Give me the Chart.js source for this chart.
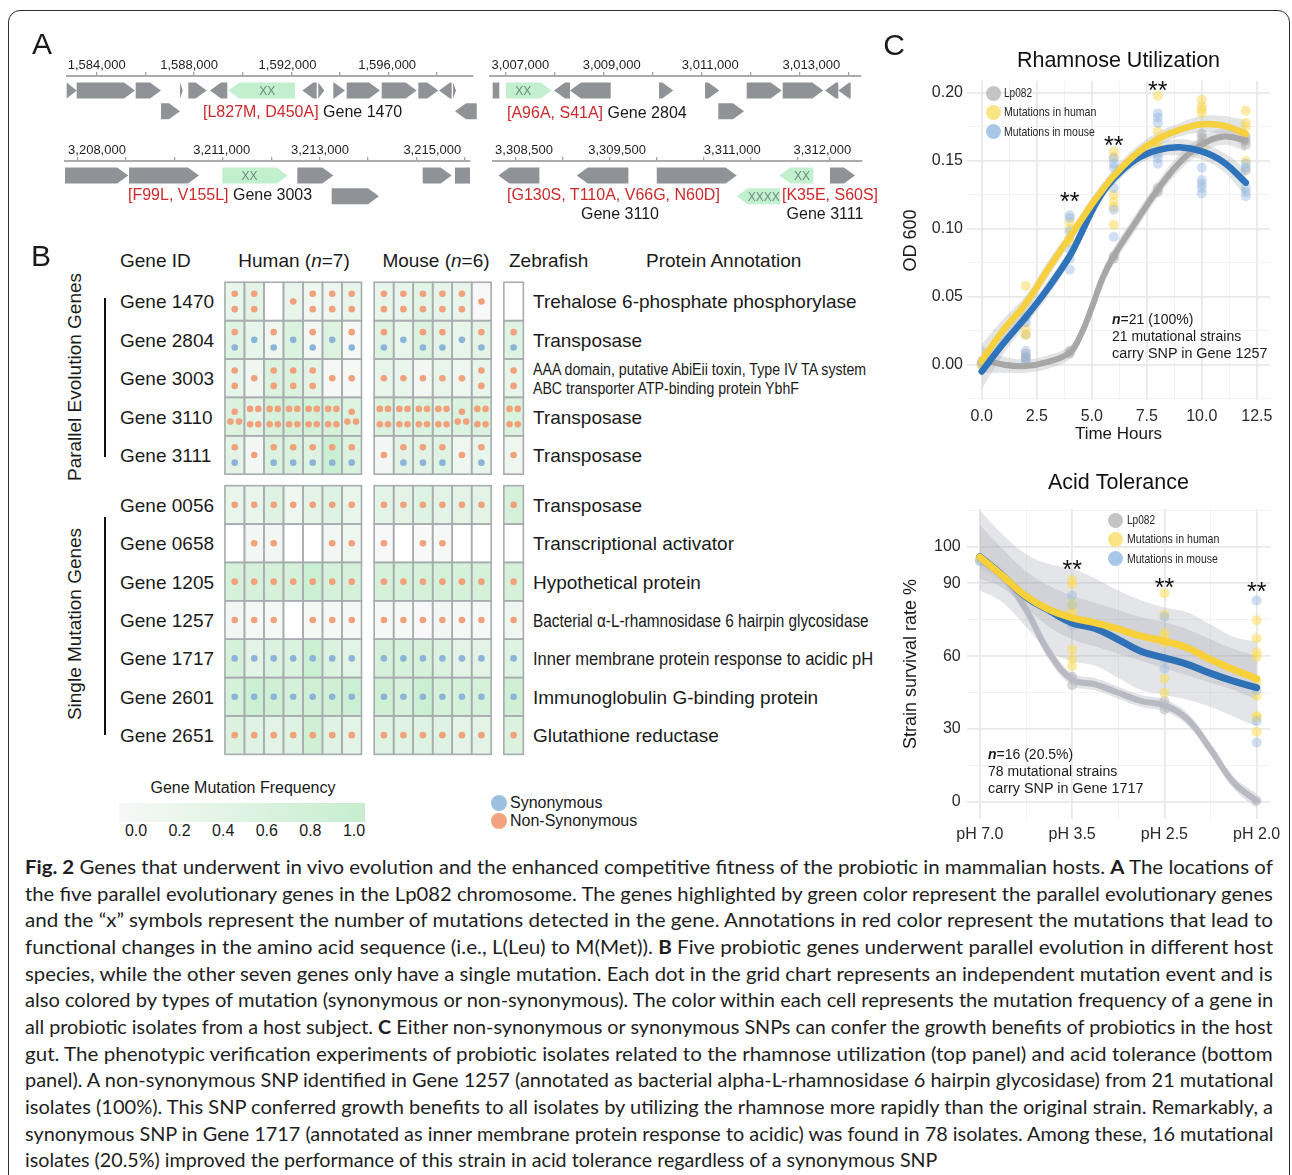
<!DOCTYPE html>
<html>
<head>
<meta charset="utf-8">
<title>Fig. 2</title>
<script src="https://cdn.jsdelivr.net/npm/chart.js@4.4.1/dist/chart.umd.min.js"></script>
<style>
  html, body { margin: 0; padding: 0; background: #fff; }
  body { position: relative; width: 1292px; height: 1175px; overflow: hidden; font-family: "Liberation Sans", Arial, sans-serif; color: #1a1a1a; }
  .frame { position: absolute; left: 8px; top: 10px; width: 1282px; height: 1260px; box-sizing: border-box; border: 1.5px solid #2b2b2b; border-radius: 12px; }
  .t { position: absolute; white-space: nowrap; line-height: 1.15; }
  .cap { font-family: Lato, "Open Sans", sans-serif; color: #1e1e1e; }
  canvas { position: absolute; }
  .blk { position: absolute; }
</style>
</head>
<body>
<div class="frame"></div>
<script>
const FONT = '"Liberation Sans", Arial, sans-serif';
Chart.defaults.font.family = FONT;
Chart.defaults.color = '#2a2a2a';

// ---------------- Panel A: gene neighbourhoods ----------------
// gene = [start, end, strand (1 / -1 / 0 box), row, mutation marks]
const track1Marks = [1584000, 1586000, 1588000, 1590000, 1592000, 1594000, 1596000, 1598000];
const track1LabelAt = [1584000, 1587800, 1591850, 1595950];
const track1Labels = ['1,584,000', '1,588,000', '1,592,000', '1,596,000'];
const track1Genes = [
  [1582766, 1583177, 1, 0, 0], [1583177, 1585576, 1, 0, 0], [1585604, 1586645, 1, 0, 0],
  [1587427, 1587538, 1, 0, 0], [1587768, 1588525, 1, 0, 0], [1588661, 1589373, -1, 0, 0],
  [1589414, 1592158, -1, 0, 2], [1592458, 1593051, -1, 0, 0], [1593116, 1593363, 1, 0, 0],
  [1593734, 1594215, 1, 0, 0], [1594285, 1595655, 1, 0, 0], [1595725, 1597165, 1, 0, 0],
  [1597231, 1598054, 1, 0, 0], [1598082, 1598605, -1, 0, 0], [1598658, 1598782, 1, 0, 0],
  [1586645, 1587427, 1, 1, 0], [1598741, 1599634, -1, 1, 0]
];

const track2Marks = [3007000, 3008000, 3009000, 3010000, 3011000, 3012000, 3013000, 3014000];
const track2LabelAt = [3007293, 3009162, 3011178, 3013244];
const track2Labels = ['3,007,000', '3,009,000', '3,011,000', '3,013,000'];
const track2Genes = [
  [3006728, 3006863, 0, 0, 0], [3007000, 3007935, 1, 0, 2], [3007982, 3008309, -1, 0, 0],
  [3008309, 3009141, -1, 0, 0], [3010129, 3010421, 1, 0, 0], [3011070, 3011362, 1, 0, 0],
  [3011922, 3012638, 1, 0, 0], [3012659, 3013489, 1, 0, 0], [3013524, 3013796, -1, 0, 0],
  [3013796, 3014049, -1, 0, 0], [3011342, 3011867, 1, 1, 0]
];

const track3Marks = [3208000, 3209000, 3210000, 3211000, 3212000, 3213000, 3214000, 3215000, 3216000];
const track3LabelAt = [3208399, 3210975, 3213006, 3215326];
const track3Labels = ['3,208,000', '3,211,000', '3,213,000', '3,215,000'];
const track3Genes = [
  [3207738, 3209045, 1, 0, 0], [3209060, 3210506, 1, 0, 0], [3210987, 3212339, 1, 0, 2],
  [3212537, 3213281, 1, 0, 0], [3215128, 3215727, 1, 0, 0], [3215795, 3216105, 0, 0, 0],
  [3213248, 3214225, 1, 1, 0]
];

const track4Marks = [3308500, 3309000, 3309500, 3310000, 3310500, 3311000, 3311500, 3311840];
const track4LabelAt = [3308585, 3309575, 3310801, 3311759];
const track4Labels = ['3,308,500', '3,309,500', '3,311,000', '3,312,000'];
const track4Genes = [
  [3308312, 3308748, -1, 0, 0], [3309146, 3309695, -1, 0, 0], [3309997, 3310848, 1, 0, 0],
  [3311302, 3311664, -1, 0, 2], [3311841, 3312107, 1, 0, 0], [3310848, 3311309, -1, 1, 4]
];

// ---------------- Panel B: mutation grid ----------------
const geneIds = ['Gene 1470', 'Gene 2804', 'Gene 3003', 'Gene 3110', 'Gene 3111',
  'Gene 0056', 'Gene 0658', 'Gene 1205', 'Gene 1257', 'Gene 1717', 'Gene 2601', 'Gene 2651'];
const geneAnnotations = ['Trehalose 6-phosphate phosphorylase', 'Transposase', '', 'Transposase', 'Transposase',
  'Transposase', 'Transcriptional activator', 'Hypothetical protein', '', '',
  'Immunoglobulin G-binding protein', 'Glutathione reductase'];
// n = non-synonymous, s = synonymous, one letter per mutation event
const humanMut = [
  ['nn', 'nn', '', 'n', 'nn', 'nn', 'nn'],
  ['ns', 's', 'ns', 's', 'ns', 's', 'ns'],
  ['nn', 'n', 'nn', 'nn', 'nn', 'n', 'n'],
  ['nnn', 'nnnn', 'nnnn', 'nnnn', 'nnnn', 'nnnn', 'nnn'],
  ['ns', 'n', 'ns', 'ns', 'ns', 'ns', 'ns'],
  ['n', 'n', 'n', 'n', 'n', 'n', 'n'],
  ['', 'n', 'n', '', '', 'n', 'n'],
  ['n', 'n', 'n', 'n', 'n', 'n', 'n'],
  ['n', 'n', 'n', '', 'n', 'n', 'n'],
  ['s', 's', 's', 's', 's', 's', 's'],
  ['s', 's', 's', 's', 's', 's', 's'],
  ['n', 'n', 'n', 'n', 'n', 'n', 'n']
];
const mouseMut = [
  ['nn', 'nn', 'nn', 'nn', 'nn', 'n'],
  ['ns', 's', 'ns', 'ns', 's', 'ns'],
  ['n', 'n', 'n', 'n', 'n', 'nn'],
  ['nnnn', 'nnnn', 'nnnn', 'nnnn', 'nnn', 'nnnn'],
  ['n', 'ns', 'ns', 'ns', 'n', 'ns'],
  ['n', 'n', 'n', 'n', 'n', 'n'],
  ['n', '', 'n', 'n', '', ''],
  ['n', 'n', 'n', 'n', 'n', 'n'],
  ['n', 'n', 'n', 'n', 'n', 'n'],
  ['s', 's', 's', 's', 's', 's'],
  ['s', 's', 's', 's', 's', 's'],
  ['n', 'n', 'n', 'n', 'n', 'n']
];
const zebraMut = ['', 'ns', 'nn', 'nnnn', 'n', 'n', '', 'n', 'n', 's', 's', 'n'];
const humanFreq = [
  [0.30, 0.40, 0.00, 0.30, 0.15, 0.20, 0.30],
  [0.50, 0.35, 0.15, 0.60, 0.10, 0.55, 0.03],
  [0.35, 0.15, 0.60, 0.60, 0.40, 0.05, 0.02],
  [0.60, 0.40, 0.70, 0.75, 0.75, 0.70, 0.55],
  [0.40, 0.10, 0.60, 0.60, 0.50, 0.90, 0.60],
  [0.30, 0.30, 0.50, 0.20, 0.40, 0.50, 0.30],
  [0.00, 0.10, 0.10, 0.00, 0.00, 0.10, 0.20],
  [0.70, 0.70, 0.70, 0.70, 0.90, 0.70, 0.70],
  [0.10, 0.05, 0.02, 0.00, 0.05, 0.05, 0.05],
  [0.70, 0.40, 0.60, 0.60, 0.90, 0.60, 0.40],
  [0.70, 0.90, 0.80, 0.70, 0.80, 0.80, 0.90],
  [0.60, 0.50, 0.40, 0.50, 0.80, 0.50, 0.40]
];
const mouseFreq = [
  [0.30, 0.30, 0.45, 0.35, 0.30, 0.00],
  [0.50, 0.30, 0.60, 0.40, 0.30, 0.40],
  [0.30, 0.30, 0.10, 0.30, 0.20, 0.30],
  [0.60, 0.50, 0.60, 0.50, 0.60, 0.60],
  [0.10, 0.40, 0.40, 0.50, 0.20, 0.30],
  [0.40, 0.40, 0.50, 0.40, 0.40, 0.40],
  [0.00, 0.00, 0.00, 0.05, 0.00, 0.00],
  [0.70, 0.70, 0.70, 0.70, 0.70, 0.70],
  [0.05, 0.05, 0.00, 0.10, 0.05, 0.05],
  [0.70, 0.70, 0.70, 0.60, 0.40, 0.40],
  [0.80, 0.70, 0.90, 0.70, 0.70, 0.70],
  [0.50, 0.50, 0.50, 0.50, 0.40, 0.40]
];
const zebraFreq = [0.00, 0.50, 0.30, 0.60, 0.20, 0.70, 0.00, 0.70, 0.20, 0.50, 0.80, 0.60];
const freqLegendTicks = [0, 0.2, 0.4, 0.6, 0.8, 1.0];

// ---------------- Panel C: rhamnose utilization ----------------
const rhamFitHours = [0, 1, 2, 3, 4, 4.5, 5, 5.5, 6, 7, 8, 9, 10, 11, 12];
const rhamFitLp082 = [0.004, 0.000, -0.001, 0.002, 0.009, 0.022, 0.042, 0.064, 0.080, 0.105, 0.129, 0.149, 0.162, 0.168, 0.165];
const rhamFitHuman = [0.003, 0.026, 0.045, 0.070, 0.094, 0.106, 0.118, 0.129, 0.139, 0.155, 0.166, 0.173, 0.177, 0.176, 0.170];
const rhamFitMouse = [-0.005, 0.016, 0.035, 0.056, 0.080, 0.096, 0.113, 0.127, 0.137, 0.151, 0.158, 0.160, 0.157, 0.149, 0.134];
const rhamSeLp082 = [0.010, 0.006, 0.005, 0.005, 0.005, 0.005, 0.006, 0.006, 0.006, 0.006, 0.006, 0.006, 0.006, 0.006, 0.008];
const rhamSeHuman = [0.012, 0.008, 0.006, 0.006, 0.005, 0.005, 0.005, 0.005, 0.005, 0.005, 0.005, 0.005, 0.006, 0.007, 0.010];
const rhamSeMouse = [0.013, 0.008, 0.006, 0.006, 0.005, 0.005, 0.005, 0.005, 0.005, 0.005, 0.005, 0.006, 0.006, 0.007, 0.010];
const rhamPtsLp082 = [[0, 0.000], [0, 0.001], [2, 0.022], [2, 0.008], [2, 0.006], [2, 0.004], [4, 0.010], [4, 0.008],
  [6, 0.080], [6, 0.078], [8, 0.130], [8, 0.127], [10, 0.170], [10, 0.167], [10, 0.163],
  [12, 0.168], [12, 0.165], [12, 0.162], [12, 0.143]];
const rhamPtsHuman = [[0, 0.000], [0, 0.001], [2, 0.058], [2, 0.027], [2, 0.022], [4, 0.105], [4, 0.100], [4, 0.093], [4, 0.090],
  [6, 0.157], [6, 0.153], [6, 0.125], [6, 0.120], [6, 0.116], [6, 0.103], [8, 0.198], [8, 0.172], [8, 0.165], [8, 0.160], [8, 0.158],
  [10, 0.195], [10, 0.190], [10, 0.188], [10, 0.185], [10, 0.160], [12, 0.187], [12, 0.178], [12, 0.175], [12, 0.150]];
const rhamPtsMouse = [[0, 0.002], [2, 0.035], [2, 0.031], [2, 0.010], [2, 0.005], [2, 0.002],
  [4, 0.110], [4, 0.108], [4, 0.098], [4, 0.085], [4, 0.078], [4, 0.070],
  [6, 0.152], [6, 0.148], [6, 0.145], [6, 0.130], [6, 0.114], [6, 0.094],
  [8, 0.185], [8, 0.182], [8, 0.178], [8, 0.155], [8, 0.152], [8, 0.148],
  [10, 0.145], [10, 0.136], [10, 0.133], [10, 0.130], [10, 0.126],
  [12, 0.148], [12, 0.145], [12, 0.130], [12, 0.127], [12, 0.124]];
const rhamStarX = [4, 6, 8];
const rhamStarY = [0.125, 0.166, 0.207];
const rhamXTicks = [0, 1.25, 2.5, 3.75, 5, 6.25, 7.5, 8.75, 10, 11.25, 12.5];
const rhamYTicks = [-0.025, 0, 0.025, 0.05, 0.075, 0.1, 0.125, 0.15, 0.175, 0.2];

// ---------------- Panel C: acid tolerance ----------------
const acidLabels = ['pH 7.0', 'pH 3.5', 'pH 2.5', 'pH 2.0'];
const acidFitPos = [0, 0.25, 0.5, 0.75, 1, 1.25, 1.5, 1.75, 2, 2.25, 2.5, 2.75, 3];
const acidFitLp082 = [99.5, 92.9, 79.2, 61.4, 50.4, 48.4, 44.9, 41.5, 39.7, 34.0, 21.6, 7.9, 0.4];
const acidFitHuman = [100.8, 92.9, 84.7, 79.2, 75.8, 73.7, 71.2, 68.2, 66.2, 63.4, 58.6, 54.5, 50.7];
const acidFitMouse = [101.0, 93.0, 84.4, 78.8, 73.7, 71.4, 66.8, 61.9, 59.3, 56.6, 52.9, 49.7, 47.0];
const acidBandHumanHi = [120, 110, 102, 98, 96, 92, 87, 83, 80, 78, 73, 68, 66];
const acidBandHumanLo = [92, 88, 80, 72, 67, 64, 61, 58, 55, 52, 49, 46, 42];
const acidBandMouseHi = [114, 104, 95, 89, 85, 82, 79, 76, 74, 71, 67, 63, 60];
const acidBandMouseLo = [87, 82, 72, 62, 58, 56, 51, 46, 44, 42, 39, 35, 31];
const acidSeLp082 = [3, 3, 3, 3, 2.5, 2.5, 2.5, 2.5, 2.5, 2.5, 2.5, 2.5, 3];
const acidPtsLp082 = [[0, 99.5], [1, 51.5], [1, 48.0], [2, 41.5], [2, 38.0], [3, 0.4]];
const acidPtsHuman = [[0, 100], [1, 91.5], [1, 89.5], [1, 82.0], [1, 79.5], [1, 78.5], [1, 62.7], [1, 58.9], [1, 55.9],
  [2, 85.9], [2, 77.1], [2, 69.6], [2, 68.0], [2, 65.5], [2, 50.7], [2, 44.9],
  [3, 74.8], [3, 67.3], [3, 61.6], [3, 59.7], [3, 49.3], [3, 43.6], [3, 35.3], [3, 34.7], [3, 28.8]];
const acidPtsMouse = [[0, 99], [1, 85.0], [1, 81.0], [1, 72.6], [2, 76.2], [2, 58.9], [2, 54.8],
  [3, 82.9], [3, 46.0], [3, 33.3], [3, 24.4]];
const acidStarX = [1, 2, 3];
const acidStarY = [98.4, 91.0, 89.2];
const acidXTicks = [0, 0.5, 1, 1.5, 2, 2.5, 3];
const acidYTicks = [0, 15, 30, 45, 60, 75, 90, 105, 120];
const acidYLabelAt = [0, 30, 60, 90, 105];
const acidYLabels = ['0', '30', '60', '90', '100'];

// ---------------- helpers ----------------
function put(html, x, y, o = {}) {
  const d = document.createElement('div');
  d.className = 't' + (o.cls ? ' ' + o.cls : '');
  d.innerHTML = html;
  d.style.fontSize = (o.size || 16) + 'px';
  if (o.color) d.style.color = o.color;
  d.style.left = x + 'px';
  d.style.top = y + 'px';
  document.body.appendChild(d);
  const sx = o.width ? o.width / d.offsetWidth : 1;
  const ax = o.align === 'center' ? -50 : o.align === 'right' ? -100 : 0;
  d.style.transformOrigin = (o.align === 'center' ? '50%' : o.align === 'right' ? '100%' : '0') + ' 50%';
  d.style.transform = `translate(${ax}%, -50%)` + (o.rotate ? ` rotate(${o.rotate}deg)` : '') + ` scaleX(${sx})`;
  return d;
}

function block(x, y, w, h, css) {
  const d = document.createElement('div');
  d.className = 'blk';
  Object.assign(d.style, { left: x + 'px', top: y + 'px', width: w + 'px', height: h + 'px' }, css);
  document.body.appendChild(d);
}

function canvasAt(left, top, w, h) {
  const c = document.createElement('canvas');
  c.width = w; c.height = h;
  c.style.left = left + 'px'; c.style.top = top + 'px';
  c.style.width = w + 'px'; c.style.height = h + 'px';
  document.body.appendChild(c);
  return c;
}

// ---------------- Panel A charts ----------------
const geneArrows = {
  id: 'geneArrows',
  afterDatasetsDraw(chart) {
    const ctx = chart.ctx;
    const genes = chart.data.datasets[0].genes;
    chart.getDatasetMeta(0).data.forEach((el, i) => {
      const g = genes[i];
      const x0 = Math.min(el.x, el.base), x1 = Math.max(el.x, el.base);
      const yc = el.y, h = el.height / 2;
      const head = Math.min(11, x1 - x0);
      ctx.beginPath();
      if (g[2] === 1) {
        ctx.moveTo(x0, yc - h); ctx.lineTo(x1 - head, yc - h); ctx.lineTo(x1, yc);
        ctx.lineTo(x1 - head, yc + h); ctx.lineTo(x0, yc + h);
      } else if (g[2] === -1) {
        ctx.moveTo(x1, yc - h); ctx.lineTo(x0 + head, yc - h); ctx.lineTo(x0, yc);
        ctx.lineTo(x0 + head, yc + h); ctx.lineTo(x1, yc + h);
      } else {
        ctx.rect(x0, yc - h, x1 - x0, 2 * h);
      }
      ctx.closePath();
      ctx.fillStyle = g[4] ? '#c2efcd' : '#8f9297';
      ctx.fill();
      if (g[4]) {
        const cx = g[2] === 1 ? (x0 + x1 - head) / 2 : (x0 + head + x1) / 2;
        ctx.save();
        ctx.font = '12px "Liberation Sans Narrow", ' + FONT;
        ctx.fillStyle = '#6d8c7d';
        ctx.textAlign = 'center';
        ctx.textBaseline = 'middle';
        ctx.fillText('X'.repeat(g[4]), cx, yc + 1);
        ctx.restore();
      }
    });
  }
};

const tracks = [
  { left: 40, top: 48, width: 450, padL: 26.7, padR: 17, min: 1582766, max: 1599481, marks: track1Marks, labelAt: track1LabelAt, labels: track1Labels, genes: track1Genes },
  { left: 480, top: 48, width: 400, padL: 10, padR: 19, min: 3006673, max: 3014260, marks: track2Marks, labelAt: track2LabelAt, labels: track2Labels, genes: track2Genes },
  { left: 40, top: 133, width: 450, padL: 25, padR: 20, min: 3207738, max: 3216105, marks: track3Marks, labelAt: track3LabelAt, labels: track3Labels, genes: track3Genes },
  { left: 480, top: 133, width: 400, padL: 13.3, padR: 18.3, min: 3308258, max: 3312178, marks: track4Marks, labelAt: track4LabelAt, labels: track4Labels, genes: track4Genes }
];

tracks.forEach(t => {
  const cv = canvasAt(t.left, t.top, t.width, 80);
  new Chart(cv, {
    type: 'bar',
    data: {
      datasets: [{
        data: t.genes.map(g => ({ x: [g[0], g[1]], y: g[3] })),
        genes: t.genes,
        backgroundColor: 'rgba(0,0,0,0)',
        barThickness: 16
      }]
    },
    options: {
      indexAxis: 'y', responsive: false, animation: false,
      layout: { padding: { left: t.padL, right: t.padR, top: 0, bottom: 0 } },
      plugins: { legend: { display: false }, tooltip: { enabled: false } },
      scales: {
        x: {
          type: 'linear', position: 'top', min: t.min, max: t.max, beginAtZero: false,
          afterBuildTicks: s => {
            s.ticks = t.marks.map(v => ({ value: v, mark: true }))
              .concat(t.labelAt.map((v, i) => ({ value: v, txt: t.labels[i] })));
          },
          afterFit: s => { s.height = 28; },
          ticks: { autoSkip: false, maxRotation: 0, padding: -1, font: { size: 13 }, color: '#1e1e1e',
            callback: (v, i, ticks) => ticks[i].txt || '' },
          grid: { drawOnChartArea: false, tickLength: 4, lineWidth: 1.3,
            color: c => (c.tick && c.tick.mark) ? '#a3a3a3' : 'rgba(0,0,0,0)' },
          border: { color: '#ababab', width: 2 }
        },
        y: { type: 'linear', min: -0.7, max: 1.8, reverse: true, offset: false, display: false }
      }
    },
    plugins: [geneArrows]
  });
});

const RED = '#cc2a2a';
put(`<span style="color:${RED}">[L827M, D450A]</span> Gene 1470`, 203, 112, { size: 16 });
put(`<span style="color:${RED}">[A96A, S41A]</span> Gene 2804`, 507, 113, { size: 16 });
put(`<span style="color:${RED}">[F99L, V155L]</span> Gene 3003`, 128, 195, { size: 16 });
put(`<span style="color:${RED}">[G130S, T110A, V66G, N60D]</span>`, 507, 195, { size: 16 });
put('Gene 3110', 620, 214, { size: 16, align: 'center' });
put(`<span style="color:${RED}">[K35E, S60S]</span>`, 782, 195, { size: 16 });
put('Gene 3111', 825, 214, { size: 16, align: 'center' });

// ---------------- Panel B chart ----------------
const hostBlocks = [
  { start: 0, mut: humanMut, freq: humanFreq },
  { start: 7.65, mut: mouseMut, freq: mouseFreq },
  { start: 14.3, mut: zebraMut.map(m => [m]), freq: zebraFreq.map(f => [f]) }
];
const rowStart = r => (r < 5 ? r : r + 0.3);
const dotOffsets = {
  1: [[0, 0]],
  2: [[0, -0.2], [0, 0.2]],
  3: [[0, -0.125], [-0.22, 0.13], [0.22, 0.13]],
  4: [[-0.21, -0.2], [0.21, -0.2], [-0.21, 0.2], [0.21, 0.2]]
};
const nonSynDots = [], synDots = [];
hostBlocks.forEach(b => b.mut.forEach((row, r) => row.forEach((s, j) => {
  if (!s) return;
  dotOffsets[s.length].forEach((o, k) => {
    const p = { x: b.start + j + 0.5 + o[0], y: rowStart(r) + 0.5 + o[1] };
    (s[k] === 'n' ? nonSynDots : synDots).push(p);
  });
})));

function cellColor(f, empty) {
  if (empty) return '#ffffff';
  const a = [247, 248, 247], z = [198, 238, 206];
  return `rgb(${a.map((v, i) => Math.round(v + (z[i] - v) * f)).join(',')})`;
}

const cellsPlugin = {
  id: 'cells',
  beforeDatasetsDraw(chart) {
    const { ctx, scales: { x, y } } = chart;
    const rects = [];
    hostBlocks.forEach(b => b.freq.forEach((row, r) => row.forEach((f, j) => {
      const x0 = x.getPixelForValue(b.start + j), x1 = x.getPixelForValue(b.start + j + 1);
      const y0 = y.getPixelForValue(rowStart(r)), y1 = y.getPixelForValue(rowStart(r) + 1);
      rects.push([x0, y0, x1 - x0, y1 - y0]);
      ctx.fillStyle = cellColor(f, !b.mut[r][j]);
      ctx.fillRect(x0, y0, x1 - x0, y1 - y0);
    })));
    ctx.save();
    ctx.strokeStyle = '#a8acb0';
    ctx.lineWidth = 1.6;
    rects.forEach(rc => ctx.strokeRect(rc[0], rc[1], rc[2], rc[3]));
    ctx.restore();
  }
};

const gridLeft = 219, gridTop = 276;
const gridCanvas = canvasAt(gridLeft, gridTop, 311, 485);
const gridChart = new Chart(gridCanvas, {
  type: 'scatter',
  data: {
    datasets: [
      { label: 'Synonymous', data: synDots, pointRadius: 3.3, pointBackgroundColor: 'rgb(140,180,216)', pointBorderWidth: 0 },
      { label: 'Non-Synonymous', data: nonSynDots, pointRadius: 3.3, pointBackgroundColor: 'rgb(241,161,124)', pointBorderWidth: 0 }
    ]
  },
  options: {
    responsive: false, animation: false,
    layout: { padding: 0 },
    plugins: { legend: { display: false }, tooltip: { enabled: false } },
    scales: {
      x: { type: 'linear', min: -0.1, max: 15.435, display: false },
      y: { type: 'linear', min: -0.059, max: 12.369, reverse: true, display: false }
    }
  },
  plugins: [cellsPlugin]
});

put('Gene ID', 120, 261, { size: 19 });
put('Human (<i>n</i>=7)', 294, 261, { size: 19, align: 'center' });
put('Mouse (<i>n</i>=6)', 436, 261, { size: 19, align: 'center' });
put('Zebrafish', 509, 261, { size: 19 });
put('Protein Annotation', 646, 261, { size: 19 });

geneIds.forEach((g, r) => {
  const yc = gridTop + gridChart.scales.y.getPixelForValue(rowStart(r) + 0.5) + 1;
  put(g, 120, yc, { size: 19 });
  if (geneAnnotations[r]) put(geneAnnotations[r], 533, yc, { size: 19 });
  if (r === 2) {
    put('AAA domain, putative AbiEii toxin, Type IV TA system', 533, yc - 9, { size: 16, width: 333 });
    put('ABC transporter ATP-binding protein YbhF', 533, yc + 10, { size: 16, width: 266 });
  }
  if (r === 8) put('Bacterial α-L-rhamnosidase 6 hairpin glycosidase', 533, yc, { size: 18, width: 336 });
  if (r === 9) put('Inner membrane protein response to acidic pH', 533, yc, { size: 18, width: 340 });
});

put('Parallel Evolution Genes', 75, 377, { size: 19, align: 'center', rotate: -90 });
put('Single Mutation Genes', 75, 624, { size: 19, align: 'center', rotate: -90 });
block(104, 298, 2, 159, { background: '#111' });
block(104, 517, 2, 218, { background: '#111' });

// frequency legend
put('Gene Mutation Frequency', 243, 788, { size: 16, align: 'center' });
block(119, 803, 246, 19, { background: 'linear-gradient(to right, rgb(247,248,247), rgb(198,238,206))' });
freqLegendTicks.forEach(v => put(v.toFixed(1), 136 + v * 218, 831, { size: 16, align: 'center' }));
block(491, 795, 16, 16, { background: 'rgb(157,191,224)', borderRadius: '50%' });
block(491, 813, 16, 16, { background: 'rgb(243,162,127)', borderRadius: '50%' });
put('Synonymous', 510, 803, { size: 16 });
put('Non-Synonymous', 510, 821, { size: 16 });

// ---------------- Panel C charts ----------------
const starPlugin = {
  id: 'stars',
  afterDatasetsDraw(chart, args, opts) {
    const { ctx, scales: { x, y } } = chart;
    ctx.save();
    ctx.font = '25px ' + FONT;
    ctx.fillStyle = '#111';
    ctx.textAlign = 'center';
    ctx.textBaseline = 'alphabetic';
    opts.xs.forEach((v, i) => ctx.fillText('**', x.getPixelForValue(v), y.getPixelForValue(opts.ys[i]) + 15));
    ctx.restore();
  }
};

const fitLine = (xs, ys, color, width, order) => ({
  data: xs.map((x, i) => ({ x, y: ys[i] })), borderColor: color, borderWidth: width,
  pointRadius: 0, tension: 0.4, fill: false, order, borderCapStyle: 'round'
});
const bandPair = (xs, lo, hi, color, order) => [
  { data: xs.map((x, i) => ({ x, y: hi[i] })), borderWidth: 0, pointRadius: 0, tension: 0.4, fill: '+1', backgroundColor: color, order },
  { data: xs.map((x, i) => ({ x, y: lo[i] })), borderWidth: 0, pointRadius: 0, tension: 0.4, fill: false, order }
];
const pointSet = (pts, color, order) => ({
  data: pts.map(p => ({ x: p[0], y: p[1] })), showLine: false, pointRadius: 5,
  pointBackgroundColor: color, pointBorderWidth: 0, order
});
const near = (v, list) => list.findIndex(t => Math.abs(t - v) < 1e-6);

// rhamnose utilization
const rhamMajor = v => Math.abs(v / 2.5 - Math.round(v / 2.5)) < 1e-6;
const rhamYMajor = v => Math.abs(v / 0.05 - Math.round(v / 0.05)) < 1e-6;
const rhamBand = (fit, se) => [fit.map((v, i) => v - se[i]), fit.map((v, i) => v + se[i])];
const rhamCanvas = canvasAt(895, 40, 392, 415);
new Chart(rhamCanvas, {
  type: 'line',
  data: {
    datasets: [
      ...bandPair(rhamFitHours, ...rhamBand(rhamFitLp082, rhamSeLp082), 'rgba(175,178,182,0.35)', 10),
      ...bandPair(rhamFitHours, ...rhamBand(rhamFitHuman, rhamSeHuman), 'rgba(175,178,182,0.35)', 10),
      ...bandPair(rhamFitHours, ...rhamBand(rhamFitMouse, rhamSeMouse), 'rgba(175,178,182,0.35)', 10),
      pointSet(rhamPtsLp082, 'rgba(165,165,165,0.45)', 6),
      pointSet(rhamPtsHuman, 'rgba(250,216,80,0.5)', 5),
      pointSet(rhamPtsMouse, 'rgba(150,185,225,0.45)', 4),
      fitLine(rhamFitHours, rhamFitLp082, '#a7a7a7', 6, 3),
      fitLine(rhamFitHours, rhamFitMouse, '#2f74bb', 6.5, 2),
      fitLine(rhamFitHours, rhamFitHuman, '#f6d03e', 6.5, 1)
    ]
  },
  options: {
    responsive: false, animation: false,
    layout: { padding: { left: 0, right: 17, top: 0, bottom: 0 } },
    plugins: {
      legend: { display: false }, tooltip: { enabled: false },
      title: { display: true, fullSize: false, text: 'Rhamnose Utilization', font: { size: 21.5, weight: 'normal' }, color: '#111', padding: { top: 8, bottom: 7 } },
      stars: { xs: rhamStarX, ys: rhamStarY }
    },
    scales: {
      x: {
        type: 'linear', min: -0.67, max: 13.1,
        afterBuildTicks: s => { s.ticks = rhamXTicks.map(v => ({ value: v })); },
        afterFit: s => { s.height = 55; },
        ticks: { autoSkip: false, maxRotation: 0, padding: 7, font: { size: 16 }, color: '#2a2a2a',
          callback: v => rhamMajor(v) ? v.toFixed(1) : '' },
        grid: { drawTicks: false, color: c => c.tick && rhamMajor(c.tick.value) ? '#e9e9e9' : '#f2f2f2',
          lineWidth: c => c.tick && rhamMajor(c.tick.value) ? 1.8 : 1 },
        border: { display: false },
        title: { display: true, text: 'Time Hours', font: { size: 17 }, color: '#1a1a1a', padding: { top: 0, bottom: 10 } }
      },
      y: {
        type: 'linear', min: -0.026, max: 0.209,
        afterBuildTicks: s => { s.ticks = rhamYTicks.map(v => ({ value: v })); },
        afterFit: s => { s.width = 72; },
        ticks: { autoSkip: false, padding: 4, font: { size: 16 }, color: '#2a2a2a',
          callback: v => rhamYMajor(v) ? v.toFixed(2) : '' },
        grid: { drawTicks: false, color: c => c.tick && rhamYMajor(c.tick.value) ? '#e9e9e9' : '#f2f2f2',
          lineWidth: c => c.tick && rhamYMajor(c.tick.value) ? 1.8 : 1 },
        border: { display: false },
        title: { display: true, text: 'OD 600', font: { size: 18 }, color: '#1a1a1a', padding: { top: 5, bottom: 0 } }
      }
    }
  },
  plugins: [starPlugin]
});

// acid tolerance
const acidYMajor = v => near(v, acidYLabelAt) >= 0;
const acidLpBand = [acidFitLp082.map((v, i) => v - acidSeLp082[i]), acidFitLp082.map((v, i) => v + acidSeLp082[i])];
const acidCanvas = canvasAt(895, 465, 392, 384);
new Chart(acidCanvas, {
  type: 'line',
  data: {
    datasets: [
      ...bandPair(acidFitPos, acidBandHumanLo, acidBandHumanHi, 'rgba(165,170,178,0.3)', 11),
      ...bandPair(acidFitPos, acidBandMouseLo, acidBandMouseHi, 'rgba(165,170,178,0.3)', 11),
      ...bandPair(acidFitPos, acidLpBand[0], acidLpBand[1], 'rgba(190,192,200,0.45)', 10),
      pointSet(acidPtsLp082, 'rgba(170,170,175,0.45)', 6),
      pointSet(acidPtsHuman, 'rgba(252,220,85,0.55)', 5),
      pointSet(acidPtsMouse, 'rgba(160,192,228,0.5)', 4),
      fitLine(acidFitPos, acidFitLp082, '#b8b9c2', 6, 3),
      fitLine(acidFitPos, acidFitMouse, '#2f71b6', 7, 2),
      fitLine(acidFitPos, acidFitHuman, '#f7d03a', 7, 1)
    ]
  },
  options: {
    responsive: false, animation: false,
    layout: { padding: { left: 0, right: 15.3, top: 0, bottom: 0 } },
    plugins: {
      legend: { display: false }, tooltip: { enabled: false },
      title: { display: true, fullSize: false, text: 'Acid Tolerance', font: { size: 21.5, weight: 'normal' }, color: '#111', padding: { top: 5, bottom: 13 } },
      stars: { xs: acidStarX, ys: acidStarY }
    },
    scales: {
      x: {
        type: 'linear', min: -0.143, max: 3.147,
        afterBuildTicks: s => { s.ticks = acidXTicks.map(v => ({ value: v })); },
        afterFit: s => { s.height = 30; },
        ticks: { autoSkip: false, maxRotation: 0, padding: 6, font: { size: 16 }, color: '#2a2a2a',
          callback: v => Number.isInteger(v) ? acidLabels[v] : '' },
        grid: { drawTicks: false, color: c => c.tick && Number.isInteger(c.tick.value) ? '#e9e9e9' : '#f2f2f2',
          lineWidth: c => c.tick && Number.isInteger(c.tick.value) ? 1.8 : 1 },
        border: { display: false }
      },
      y: {
        type: 'linear', min: -7.1, max: 120.7,
        afterBuildTicks: s => { s.ticks = acidYTicks.map(v => ({ value: v })); },
        afterFit: s => { s.width = 71.7; },
        ticks: { autoSkip: false, padding: 6, font: { size: 16 }, color: '#2a2a2a',
          callback: v => { const k = near(v, acidYLabelAt); return k >= 0 ? acidYLabels[k] : ''; } },
        grid: { drawTicks: false, color: c => c.tick && acidYMajor(c.tick.value) ? '#e9e9e9' : '#f2f2f2',
          lineWidth: c => c.tick && acidYMajor(c.tick.value) ? 1.8 : 1 },
        border: { display: false },
        title: { display: true, text: 'Strain survival rate %', font: { size: 18 }, color: '#1a1a1a', padding: { top: 5, bottom: 0 } }
      }
    }
  },
  plugins: [starPlugin]
});

// legends and notes for panel C
const legendItems = [['Lp082', 'rgba(190,190,190,0.9)'], ['Mutations in human', 'rgba(251,225,120,0.9)'], ['Mutations in mouse', 'rgba(160,194,230,0.9)']];
const legendWidths = [28, 92, 91];
[[993, 93], [1115.5, 520]].forEach(([cx, cy]) => {
  legendItems.forEach((it, i) => {
    const y = cy + i * 19.3;
    block(cx - 7.5, y - 7.5, 15, 15, { background: it[1], borderRadius: '50%' });
    put(it[0], cx + 11, y, { size: 13, width: legendWidths[i], color: '#262626' });
  });
});
put('<b><i>n</i></b>=21 (100%)', 1112, 319, { size: 14 });
put('21 mutational strains', 1112, 336, { size: 14 });
put('carry SNP in Gene 1257', 1112, 353, { size: 14, width: 156 });
put('<b><i>n</i></b>=16 (20.5%)', 988, 754, { size: 14 });
put('78 mutational strains', 988, 771, { size: 14 });
put('carry SNP in Gene 1717', 988, 788, { size: 14, width: 156 });

// panel letters
put('A', 42, 44, { size: 30, align: 'center' });
put('B', 41, 256, { size: 30, align: 'center' });
put('C', 894, 45, { size: 30, align: 'center' });

// ---------------- caption ----------------
const captionLines = [
  '<b>Fig. 2</b> Genes that underwent in vivo evolution and the enhanced competitive fitness of the probiotic in mammalian hosts. <b>A</b> The locations of',
  'the five parallel evolutionary genes in the Lp082 chromosome. The genes highlighted by green color represent the parallel evolutionary genes',
  'and the “x” symbols represent the number of mutations detected in the gene. Annotations in red color represent the mutations that lead to',
  'functional changes in the amino acid sequence (i.e., L(Leu) to M(Met)). <b>B</b> Five probiotic genes underwent parallel evolution in different host',
  'species, while the other seven genes only have a single mutation. Each dot in the grid chart represents an independent mutation event and is',
  'also colored by types of mutation (synonymous or non-synonymous). The color within each cell represents the mutation frequency of a gene in',
  'all probiotic isolates from a host subject. <b>C</b> Either non-synonymous or synonymous SNPs can confer the growth benefits of probiotics in the host',
  'gut. The phenotypic verification experiments of probiotic isolates related to the rhamnose utilization (top panel) and acid tolerance (bottom',
  'panel). A non-synonymous SNP identified in Gene 1257 (annotated as bacterial alpha-L-rhamnosidase 6 hairpin glycosidase) from 21 mutational',
  'isolates (100%). This SNP conferred growth benefits to all isolates by utilizing the rhamnose more rapidly than the original strain. Remarkably, a',
  'synonymous SNP in Gene 1717 (annotated as inner membrane protein response to acidic) was found in 78 isolates. Among these, 16 mutational',
  'isolates (20.5%) improved the performance of this strain in acid tolerance regardless of a synonymous SNP'
];
captionLines.forEach((line, i) => {
  const last = i === captionLines.length - 1;
  put(line, 25, 867 + i * 26.65, { size: 19, cls: 'cap', width: last ? 912 : 1248 });
});
</script>
</body>
</html>
